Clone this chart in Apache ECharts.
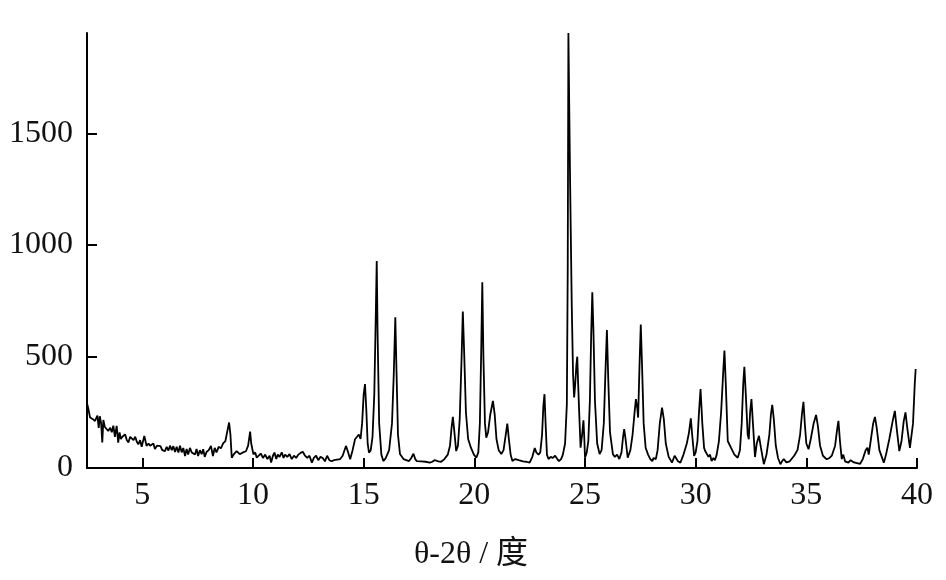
<!DOCTYPE html>
<html>
<head>
<meta charset="utf-8">
<script src="https://cdn.jsdelivr.net/npm/echarts@6/dist/echarts.min.js"></script>
<style>html,body{margin:0;padding:0;background:#fff}#c{width:946px;height:580px}</style>
</head>
<body>
<div id="c"></div>
<script>
const xTicks = [5, 10, 15, 20, 25, 30, 35, 40];
const yTicks = [0, 500, 1000, 1500];
const xTitle = 'θ-2θ / 度';

const theta = [
2.5,2.55,2.64,2.75,2.86,2.93,2.97,3.03,3.08,3.14,3.19,3.24,3.3,3.38,3.46,3.55,3.62,3.69,3.76,3.84,3.91,3.97,4.03,4.1,4.22,4.3,4.37,4.45,4.52,4.6,4.68,4.75,4.82,4.9,4.97,5.09,5.19,5.28,5.35,5.42,5.5,5.57,5.66,5.75,5.82,5.9,6.02,6.1,6.18,6.25,6.33,6.4,6.48,6.55,6.63,6.7,6.78,6.85,6.93,7.0,7.07,7.15,7.23,7.3,7.38,7.45,7.52,7.6,7.68,7.75,7.82,7.9,8.0,8.1,8.19,8.27,8.35,8.45,8.55,8.65,8.75,8.85,8.92,8.98,9.04,9.12,9.26,9.4,9.55,9.68,9.78,9.87,9.92,10.02,10.1,10.17,10.26,10.35,10.45,10.55,10.65,10.75,10.82,10.9,10.97,11.05,11.12,11.2,11.3,11.38,11.45,11.55,11.65,11.75,11.85,11.95,12.05,12.15,12.25,12.35,12.45,12.55,12.66,12.75,12.85,12.95,13.05,13.15,13.25,13.35,13.45,13.55,13.65,13.8,13.94,14.05,14.2,14.3,14.39,14.5,14.61,14.7,14.78,14.86,14.93,15.0,15.06,15.12,15.18,15.24,15.32,15.4,15.48,15.55,15.59,15.63,15.7,15.8,15.89,16.0,16.15,16.28,16.36,16.43,16.48,16.55,16.64,16.8,17.05,17.15,17.25,17.33,17.4,17.6,17.8,17.99,18.1,18.2,18.29,18.38,18.5,18.65,18.8,18.9,18.97,19.03,19.09,19.18,19.26,19.34,19.42,19.48,19.54,19.62,19.72,19.85,19.98,20.09,20.18,20.25,20.31,20.36,20.41,20.48,20.54,20.62,20.72,20.84,20.92,21.0,21.1,21.22,21.32,21.42,21.49,21.56,21.64,21.72,21.85,22.0,22.2,22.35,22.5,22.62,22.73,22.8,22.9,22.98,23.06,23.12,23.17,23.22,23.28,23.35,23.45,23.55,23.65,23.75,23.82,23.92,24.0,24.1,24.18,24.22,24.25,24.29,24.33,24.4,24.46,24.51,24.56,24.61,24.65,24.69,24.74,24.8,24.87,24.93,24.97,25.0,25.08,25.15,25.22,25.28,25.33,25.38,25.45,25.55,25.66,25.75,25.85,25.93,25.99,26.05,26.13,26.26,26.35,26.45,26.55,26.65,26.72,26.77,26.82,26.93,27.05,27.15,27.25,27.3,27.36,27.4,27.46,27.52,27.58,27.65,27.74,27.85,27.95,28.04,28.1,28.2,28.28,28.38,28.48,28.56,28.65,28.78,28.93,29.05,29.2,29.31,29.45,29.6,29.7,29.78,29.85,29.93,30.0,30.08,30.15,30.22,30.3,30.38,30.43,30.5,30.58,30.65,30.72,30.8,30.87,30.95,31.05,31.15,31.25,31.3,31.36,31.45,31.6,31.75,31.9,32.0,32.08,32.15,32.2,32.27,32.35,32.4,32.46,32.52,32.6,32.68,32.76,32.86,32.95,33.08,33.2,33.33,33.4,33.46,33.53,33.62,33.72,33.83,33.9,33.98,34.1,34.25,34.45,34.6,34.72,34.8,34.87,34.93,35.0,35.1,35.2,35.33,35.44,35.52,35.62,35.75,35.92,36.05,36.15,36.3,36.4,36.45,36.52,36.6,36.67,36.75,36.9,37.0,37.15,37.43,37.55,37.68,37.76,37.82,37.92,38.02,38.1,38.18,38.3,38.5,38.6,38.75,38.9,39.0,39.08,39.2,39.3,39.4,39.48,39.56,39.68,39.75,39.82,39.9,39.94
];
const intensity = [
290,270,226,220,211,218,235,180,232,200,115,215,185,190,166,180,160,190,140,189,114,160,130,140,151,125,114,140,132,125,140,118,106,125,95,144,99,110,100,99,110,85,100,92,98,80,76,95,78,100,80,98,72,95,69,100,70,90,54,85,60,90,70,78,60,85,54,80,62,84,50,72,80,99,54,90,70,95,88,110,120,170,204,150,46,60,76,62,70,75,100,163,110,61,70,46,50,65,45,60,40,55,24,55,69,40,60,50,70,45,60,50,62,40,55,45,60,68,73,55,45,55,24,45,55,35,50,45,30,55,35,30,35,38,40,55,99,70,39,80,129,140,150,130,200,330,376,260,110,69,80,140,330,700,928,600,200,60,31,45,80,200,420,676,450,150,63,40,31,45,64,40,31,30,28,24,28,35,40,30,28,40,60,100,180,229,170,76,100,220,480,701,520,250,130,90,60,46,70,200,520,833,500,200,136,160,240,301,240,130,80,63,80,150,199,130,60,31,40,35,30,28,24,50,90,70,60,70,150,280,331,200,60,40,50,45,55,40,31,40,60,110,286,900,1950,1600,1260,737,420,316,380,460,499,380,243,91,150,214,130,46,70,120,300,600,788,620,300,110,62,80,200,450,619,400,160,62,50,60,40,70,140,174,140,46,80,150,260,309,270,226,450,643,450,200,91,60,40,31,45,40,80,200,271,220,110,50,24,55,30,24,60,110,160,223,140,54,70,120,250,354,200,90,76,80,50,60,31,45,35,60,120,250,440,526,380,121,90,60,46,80,200,380,454,320,150,129,250,309,180,49,110,144,90,17,60,150,240,283,220,100,45,17,30,40,25,30,55,80,150,240,297,200,110,84,130,200,238,190,100,55,39,45,55,100,180,211,120,40,60,30,24,35,25,19,40,80,91,60,130,200,229,180,80,24,60,130,210,256,180,76,120,210,249,180,90,84,200,380,444
];

const data = theta.map((t, i) => [t, intensity[i]]);
const font = '"Liberation Serif", "Times New Roman", "Noto Sans CJK SC", serif';

const chart = echarts.init(document.getElementById('c'));
chart.setOption({
  animation: false,
  backgroundColor: '#fff',
  grid: { left: 87, right: 29, top: 33, bottom: 112, containLabel: false },
  xAxis: {
    type: 'value', min: 2.5, max: 40,
    axisLine: { show: true, onZero: false, lineStyle: { color: '#000', width: 2 } },
    axisTick: { show: true, inside: true, length: 10, lineStyle: { color: '#000', width: 2 }, customValues: xTicks },
    axisLabel: { show: true, color: '#111', fontSize: 32, fontFamily: font, margin: 12, customValues: xTicks,
      formatter: v => String(v) },
    splitLine: { show: false }
  },
  yAxis: {
    type: 'value', min: 0, max: 1950,
    axisLine: { show: true, lineStyle: { color: '#000', width: 2 } },
    axisTick: { show: true, inside: true, length: 10, lineStyle: { color: '#000', width: 2 }, customValues: yTicks },
    axisLabel: { show: true, color: '#111', fontSize: 32, fontFamily: font, margin: 14, customValues: yTicks,
      formatter: v => String(v) },
    splitLine: { show: false }
  },
  graphic: [{
    type: 'text', x: 471, y: 555,
    style: { text: xTitle, fill: '#111', font: '32px ' + font, textAlign: 'center', textVerticalAlign: 'middle' }
  }],
  series: [{
    type: 'line', data: data, showSymbol: false, smooth: false,
    lineStyle: { color: '#000', width: 1.8 }, clip: true
  }]
});
</script>
</body>
</html>
